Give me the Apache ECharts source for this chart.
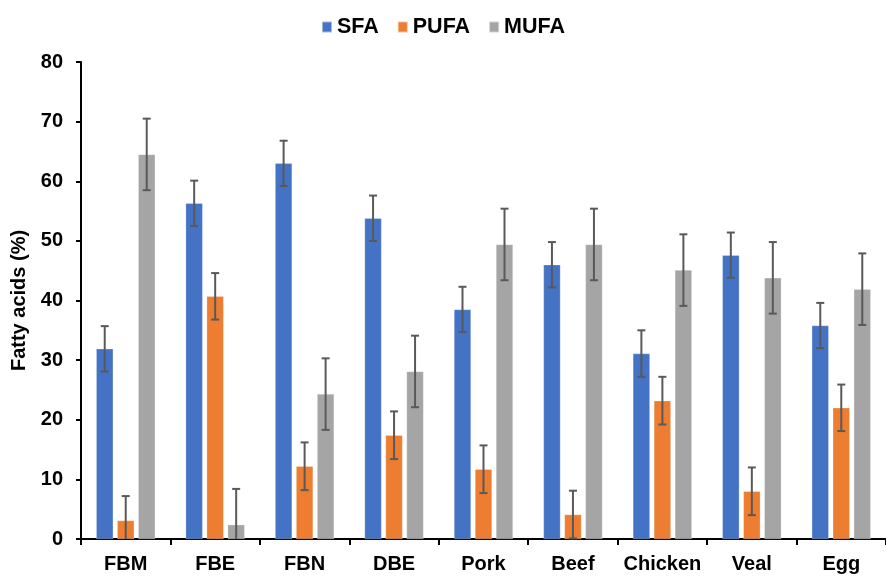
<!DOCTYPE html>
<html>
<head>
<meta charset="utf-8">
<style>
  html, body { margin: 0; padding: 0; background: #ffffff; }
  #chart { width: 886px; height: 577px; }
</style>
<script src="https://cdn.jsdelivr.net/npm/echarts@6/dist/echarts.min.js"></script>
</head>
<body>
<div id="chart"></div>
<script>
// Fatty acid composition by food source (mean ± SD)
const categories = ['FBM', 'FBE', 'FBN', 'DBE', 'Pork', 'Beef', 'Chicken', 'Veal', 'Egg'];
const seriesNames = ['SFA', 'PUFA', 'MUFA'];

const sfa      = [31.9, 56.3, 63.0, 53.8, 38.5, 46.0, 31.1, 47.6, 35.8];
const pufa     = [3.1, 40.7, 12.2, 17.4, 11.7, 4.1, 23.2, 8.0, 22.0];
const mufa     = [64.5, 2.4, 24.3, 28.1, 49.4, 49.4, 45.1, 43.8, 41.9];

const sfaErr   = [3.8, 3.8, 3.8, 3.8, 3.8, 3.8, 3.9, 3.8, 3.8];
const pufaErr  = [4.1, 3.9, 4.0, 4.0, 4.0, 4.0, 4.0, 4.0, 3.9];
const mufaErr  = [6.0, 6.0, 6.0, 6.0, 6.0, 6.0, 6.0, 6.0, 6.0];

const yTicks = { min: 0, max: 80, interval: 10 };

const colors = ['#4472C4', '#ED7D31', '#A5A5A5'];
const values = [sfa, pufa, mufa];
const errors = [sfaErr, pufaErr, mufaErr];

const FONT = '"Liberation Sans", Arial, sans-serif';
const BAR_W = 17;
const BAR_GAP_PX = 4;

const chart = echarts.init(document.getElementById('chart'));

// Whiskers drawn on top of each bar column; lower cap omitted when it would fall below zero
function errorSeries(idx) {
  const offset = (idx - 1) * (BAR_W + BAR_GAP_PX);
  return {
    type: 'custom',
    name: seriesNames[idx] + ' SD',
    z: 10,
    silent: true,
    data: values[idx].map((v, i) => [i, v, errors[idx][i]]),
    renderItem: function (params, api) {
      const cat = api.value(0);
      const v = api.value(1);
      const e = api.value(2);
      const hi = v + e;
      const lo = Math.max(0, v - e);
      const top = api.coord([cat, hi]);
      const bot = api.coord([cat, lo]);
      const x = top[0] + offset;
      const cap = 4;
      const style = { stroke: '#595959', lineWidth: 2, fill: null };
      const children = [
        { type: 'line', shape: { x1: x, y1: top[1], x2: x, y2: bot[1] }, style: style },
        { type: 'line', shape: { x1: x - cap, y1: top[1], x2: x + cap, y2: top[1] }, style: style }
      ];
      if (v - e >= 0) {
        children.push({ type: 'line', shape: { x1: x - cap, y1: bot[1], x2: x + cap, y2: bot[1] }, style: style });
      }
      return { type: 'group', children: children };
    }
  };
}

const barSeries = seriesNames.map((name, idx) => ({
  type: 'bar',
  name: name,
  data: values[idx],
  barWidth: BAR_W,
  barGap: (BAR_GAP_PX / BAR_W * 100) + '%',
  itemStyle: { color: colors[idx], borderColor: 'rgba(255,255,255,0.5)', borderWidth: 0.5 }
}));

chart.setOption({
  animation: false,
  backgroundColor: '#ffffff',
  textStyle: { fontFamily: FONT },
  legend: {
    data: seriesNames,
    top: 11,
    left: 'center',
    itemWidth: 10,
    itemHeight: 11,
    itemGap: 18,
    icon: 'rect',
    textStyle: { fontFamily: FONT, fontSize: 21.5, fontWeight: 'bold', color: '#000000' }
  },
  grid: { left: 81, top: 62, width: 807, height: 477, containLabel: false },
  xAxis: {
    type: 'category',
    data: categories,
    axisLine: { lineStyle: { color: '#000000', width: 2 } },
    axisTick: { show: true, interval: 0, length: 6, lineStyle: { color: '#000000', width: 2 } },
    axisLabel: { interval: 0, fontFamily: FONT, fontSize: 20, fontWeight: 'bold', color: '#000000', margin: 15 },
    splitLine: { show: false }
  },
  yAxis: {
    type: 'value',
    min: yTicks.min,
    max: yTicks.max,
    interval: yTicks.interval,
    name: 'Fatty acids (%)',
    nameLocation: 'middle',
    nameGap: 43,
    nameTextStyle: { fontFamily: FONT, fontSize: 20, fontWeight: 'bold', color: '#000000' },
    axisLine: { show: true, lineStyle: { color: '#000000', width: 2 } },
    axisTick: { show: true, length: 5, lineStyle: { color: '#000000', width: 2 } },
    axisLabel: { fontFamily: FONT, fontSize: 20, fontWeight: 'bold', color: '#000000', margin: 18 },
    splitLine: { show: false }
  },
  series: barSeries.concat([0, 1, 2].map(errorSeries))
});
</script>
</body>
</html>
